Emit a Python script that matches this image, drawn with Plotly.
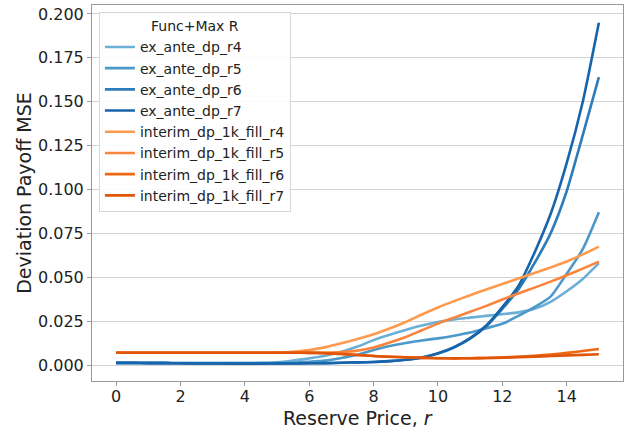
import plotly.graph_objects as go

r_values = [i * 0.5 for i in range(31)]

ex_ante_dp_r4 = [0.0012, 0.0012, 0.0012, 0.0012, 0.0011, 0.0011, 0.0011, 0.0011, 0.0011, 0.0012,
                 0.0015, 0.0025, 0.0038, 0.0053, 0.0075, 0.0105, 0.0142, 0.0172, 0.0200, 0.0225,
                 0.0245, 0.0260, 0.0270, 0.0280, 0.0290, 0.0300, 0.0320, 0.0360, 0.0420, 0.0490, 0.0580]
ex_ante_dp_r5 = [0.0012, 0.0012, 0.0012, 0.0012, 0.0011, 0.0011, 0.0011, 0.0011, 0.0011, 0.0011,
                 0.0012, 0.0013, 0.0018, 0.0025, 0.0040, 0.0058, 0.0085, 0.0108, 0.0125, 0.0140,
                 0.0152, 0.0167, 0.0185, 0.0210, 0.0235, 0.0280, 0.0330, 0.0390, 0.0520, 0.0660, 0.0870]
ex_ante_dp_r6 = [0.0012, 0.0012, 0.0011, 0.0011, 0.0010, 0.0009, 0.0009, 0.0008, 0.0008, 0.0008,
                 0.0009, 0.0009, 0.0010, 0.0011, 0.0013, 0.0015, 0.0017, 0.0022, 0.0030, 0.0042,
                 0.0065, 0.0100, 0.0150, 0.0220, 0.0320, 0.0430, 0.0580, 0.0750, 0.0990, 0.1310, 0.1640]
ex_ante_dp_r7 = [0.0012, 0.0012, 0.0011, 0.0011, 0.0010, 0.0009, 0.0009, 0.0008, 0.0008, 0.0008,
                 0.0009, 0.0009, 0.0010, 0.0011, 0.0013, 0.0015, 0.0017, 0.0022, 0.0030, 0.0043,
                 0.0067, 0.0102, 0.0153, 0.0225, 0.0330, 0.0450, 0.0640, 0.0860, 0.1150, 0.1500, 0.1950]
interim_dp_1k_fill_r4 = [0.0070, 0.0070, 0.0070, 0.0070, 0.0070, 0.0070, 0.0070, 0.0070, 0.0070, 0.0070,
                         0.0071, 0.0076, 0.0085, 0.0102, 0.0124, 0.0148, 0.0175, 0.0208, 0.0245, 0.0288,
                         0.0328, 0.0364, 0.0398, 0.0430, 0.0461, 0.0493, 0.0524, 0.0556, 0.0590, 0.0630, 0.0675]
interim_dp_1k_fill_r5 = [0.0070, 0.0070, 0.0070, 0.0070, 0.0070, 0.0070, 0.0070, 0.0070, 0.0070, 0.0070,
                         0.0070, 0.0070, 0.0070, 0.0071, 0.0074, 0.0082, 0.0100, 0.0128, 0.0160, 0.0198,
                         0.0236, 0.0270, 0.0303, 0.0337, 0.0373, 0.0408, 0.0441, 0.0475, 0.0511, 0.0549, 0.0589]
interim_dp_1k_fill_r6 = [0.0070, 0.0070, 0.0070, 0.0070, 0.0070, 0.0070, 0.0070, 0.0070, 0.0070, 0.0070,
                         0.0070, 0.0070, 0.0069, 0.0067, 0.0063, 0.0057, 0.0051, 0.0047, 0.0044, 0.0041,
                         0.0039, 0.0038, 0.0039, 0.0040, 0.0043, 0.0047, 0.0053, 0.0060, 0.0069, 0.0080, 0.0091]
interim_dp_1k_fill_r7 = [0.0070, 0.0070, 0.0070, 0.0070, 0.0070, 0.0070, 0.0070, 0.0070, 0.0070, 0.0070,
                         0.0070, 0.0070, 0.0069, 0.0067, 0.0063, 0.0057, 0.0051, 0.0047, 0.0044, 0.0041,
                         0.0039, 0.0038, 0.0039, 0.0040, 0.0042, 0.0045, 0.0048, 0.0051, 0.0055, 0.0058, 0.0061]

series_names = ["ex_ante_dp_r4", "ex_ante_dp_r5", "ex_ante_dp_r6", "ex_ante_dp_r7",
                "interim_dp_1k_fill_r4", "interim_dp_1k_fill_r5", "interim_dp_1k_fill_r6",
                "interim_dp_1k_fill_r7"]
series_values = [ex_ante_dp_r4, ex_ante_dp_r5, ex_ante_dp_r6, ex_ante_dp_r7,
                 interim_dp_1k_fill_r4, interim_dp_1k_fill_r5, interim_dp_1k_fill_r6,
                 interim_dp_1k_fill_r7]
colors = ["#6baed6", "#4b98ca", "#2c7bba", "#1764ab",
          "#fd9a4e", "#f9843a", "#ee6814", "#e05508"]

x_ticks = [0, 2, 4, 6, 8, 10, 12, 14]
y_ticks = [0.0, 0.025, 0.05, 0.075, 0.1, 0.125, 0.15, 0.175, 0.2]

fig = go.Figure()
for name, vals, col in zip(series_names, series_values, colors):
    fig.add_trace(go.Scatter(x=r_values, y=vals, mode="lines", name=name,
                             line=dict(color=col, width=2.6, shape="spline", smoothing=0.6)))

font_family = "DejaVu Sans"
fig.update_layout(
    width=626, height=429,
    margin=dict(l=92, r=3, t=5, b=48),
    paper_bgcolor="white", plot_bgcolor="white",
    font=dict(family=font_family, color="#222222"),
    showlegend=True,
    legend=dict(
        x=0.013, y=0.981, xanchor="left", yanchor="top",
        bgcolor="rgba(255,255,255,0.9)", bordercolor="#d8d8d8", borderwidth=1,
        font=dict(size=14, family=font_family, color="#222222"),
        title=dict(text="Func+Max R", side="top center",
                   font=dict(size=14, family=font_family, color="#222222")),
        tracegroupgap=0, itemwidth=30,
    ),
    xaxis=dict(
        range=[-0.75, 15.75], tickvals=x_ticks, ticktext=[str(t) for t in x_ticks],
        showgrid=False, zeroline=False, automargin=False,
        showline=True, linecolor="#999999", linewidth=1, mirror=True,
        ticks="outside", ticklen=4, tickcolor="#999999", ticklabelstandoff=-3,
        tickfont=dict(size=16, family=font_family, color="#222222"),
    ),
    yaxis=dict(
        range=[-0.0091, 0.2051], tickvals=y_ticks, ticktext=["%.3f" % t for t in y_ticks],
        showgrid=True, gridcolor="#d4d4d4", gridwidth=1, zeroline=False, automargin=False,
        showline=True, linecolor="#999999", linewidth=1, mirror=True,
        ticks="outside", ticklen=4, tickcolor="#999999",
        tickfont=dict(size=16, family=font_family, color="#222222"),
        title=dict(text="Deviation Payoff MSE", standoff=1,
                   font=dict(size=19, family=font_family, color="#222222")),
    ),
    annotations=[dict(
        text="Reserve Price, <i>r</i>", xref="paper", yref="paper", x=0.5, y=0,
        xanchor="center", yanchor="middle", yshift=-37, showarrow=False,
        font=dict(size=19, family=font_family, color="#222222"),
    )],
)

fig.write_html("out.html")
